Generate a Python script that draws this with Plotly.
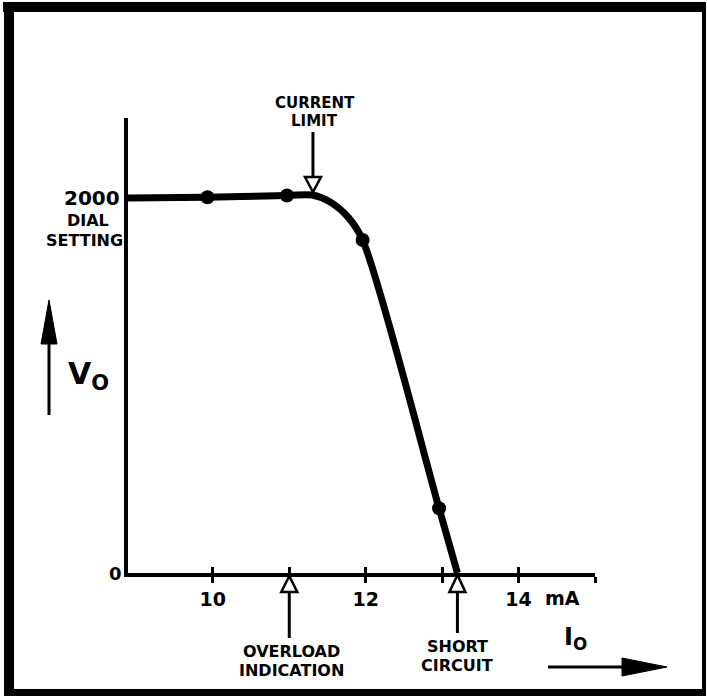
import plotly.graph_objects as go

# ---- data ----
curve_I = [8.89, 9.93, 10.97, 11.30, 11.53, 11.78, 11.96, 12.96, 13.20]
curve_V = [2000, 2004, 2014, 2016, 1980, 1893, 1776, 345, 0]
dot_I = [9.93, 10.97, 11.96, 12.96]
dot_V = [2004, 2014, 1776, 345]
label_ticks = [10, 12, 14]
label_text = ["10", "12", "14"]
plain_ticks = [11, 13, 15]
all_ticks = [10, 11, 12, 13, 14, 15]
current_limit_I = 11.31
overload_I = 11.0
short_circuit_I = 13.2
x_range = [8.89, 15.0]
y_range = [0, 2427]

W, H = 707, 696
L, R, T, B = 128, 595, 118, 573
FONT = "DejaVu Sans"


def px(p):
    return (p - L) / (R - L)


def py(p):
    return (B - p) / (B - T)


def dx(v):  # data x -> pixel
    return L + (v - x_range[0]) / (x_range[1] - x_range[0]) * (R - L)


fig = go.Figure()
fig.add_trace(go.Scatter(x=curve_I, y=curve_V, mode="lines",
                         line=dict(color="black", width=7, shape="spline", smoothing=0.9),
                         hoverinfo="skip", showlegend=False))
fig.add_trace(go.Scatter(x=dot_I, y=dot_V, mode="markers",
                         marker=dict(color="black", size=14),
                         showlegend=False))

shapes = []
# frame
for (x0, y0, x1, y1) in [(3, 2, 706, 12), (4, 2, 14, 696), (702, 2, 706, 696), (4, 689, 706, 696)]:
    shapes.append(dict(type="rect", xref="paper", yref="paper",
                       x0=px(x0), x1=px(x1), y0=py(y1), y1=py(y0),
                       fillcolor="black", line=dict(width=0), layer="above"))


def hollow_arrow(xc, tip, base, tail, half=8):
    out = [dict(type="line", xref="paper", yref="paper", x0=px(xc), x1=px(xc),
                y0=py(base), y1=py(tail), line=dict(color="black", width=3))]
    path = "M {} {} L {} {} L {} {} Z".format(px(xc), py(tip), px(xc - half), py(base), px(xc + half), py(base))
    out.append(dict(type="path", xref="paper", yref="paper", path=path,
                    fillcolor="white", line=dict(color="black", width=2.5), layer="above"))
    return out


cx = dx(current_limit_I)
shapes += hollow_arrow(cx, 192, 177, 132)
ox = dx(overload_I)
shapes += hollow_arrow(ox, 576, 592, 638)
sx = dx(short_circuit_I)
shapes += hollow_arrow(sx, 575, 592, 633)

# V_O arrow (up)
shapes.append(dict(type="line", xref="paper", yref="paper", x0=px(49), x1=px(49),
                   y0=py(415), y1=py(335), line=dict(color="black", width=3)))
shapes.append(dict(type="path", xref="paper", yref="paper",
                   path="M {} {} L {} {} L {} {} Z".format(px(49), py(300), px(41), py(344), px(57), py(344)),
                   fillcolor="black", line=dict(color="black", width=1)))
# I_O arrow (right)
shapes.append(dict(type="line", xref="paper", yref="paper", x0=px(548), x1=px(630),
                   y0=py(667), y1=py(667), line=dict(color="black", width=3)))
shapes.append(dict(type="path", xref="paper", yref="paper",
                   path="M {} {} L {} {} L {} {} Z".format(px(667), py(667), px(622), py(658), px(622), py(676)),
                   fillcolor="black", line=dict(color="black", width=1)))

ann = []


def text(t, x, y, size, xanchor="center"):
    ann.append(dict(text=t, xref="paper", yref="paper", x=px(x), y=py(y), showarrow=False,
                    xanchor=xanchor, yanchor="middle", borderpad=0,
                    font=dict(family=FONT, size=size, color="black", weight="bold")))


text("CURRENT", cx + 2, 103, 15)
text("LIMIT", cx + 2, 121, 15)
text("OVERLOAD", ox + 2, 651, 16)
text("INDICATION", ox + 2, 670, 16)
text("SHORT", sx, 646, 16)
text("CIRCUIT", sx, 665, 16)
text("2000", 121, 198, 20, "right")
text("DIAL", 110, 220, 16, "right")
text("SETTING", 124, 240, 16, "right")
text("0", 123, 573, 18, "right")
text("mA", 562, 598, 19)
text("V<sub>O</sub>", 88, 375, 30)
text("I<sub>O</sub>", 575, 638, 24)

fig.update_layout(
    width=W, height=H,
    margin=dict(l=L, r=W - R, t=T, b=H - B, pad=0),
    paper_bgcolor="white", plot_bgcolor="white",
    shapes=shapes, annotations=ann,
    xaxis=dict(range=x_range, showgrid=False, zeroline=False, showline=True,
               linecolor="black", linewidth=4, ticks="outside", ticklen=6, tickwidth=3,
               tickcolor="black", tickmode="array", tickvals=label_ticks, ticktext=label_text,
               tickfont=dict(family=FONT, size=19, color="black", weight="bold"),
               minor=dict(tickmode="array", tickvals=plain_ticks, ticks="outside",
                          ticklen=6, tickwidth=3, tickcolor="black", showgrid=False)),
    xaxis2=dict(range=x_range, overlaying="x", anchor="y", side="bottom", showgrid=False,
                zeroline=False, showline=False, ticks="inside", ticklen=6, tickwidth=3,
                tickcolor="black", tickmode="array", tickvals=all_ticks, showticklabels=False),
    yaxis=dict(range=y_range, showgrid=False, zeroline=False, showline=True,
               linecolor="black", linewidth=4, ticks="", showticklabels=False),
)
fig.add_trace(go.Scatter(x=[None], y=[None], xaxis="x2", showlegend=False))
fig.write_html("out.html", config={"displayModeBar": False},
               post_script="document.body.style.margin='0';")
